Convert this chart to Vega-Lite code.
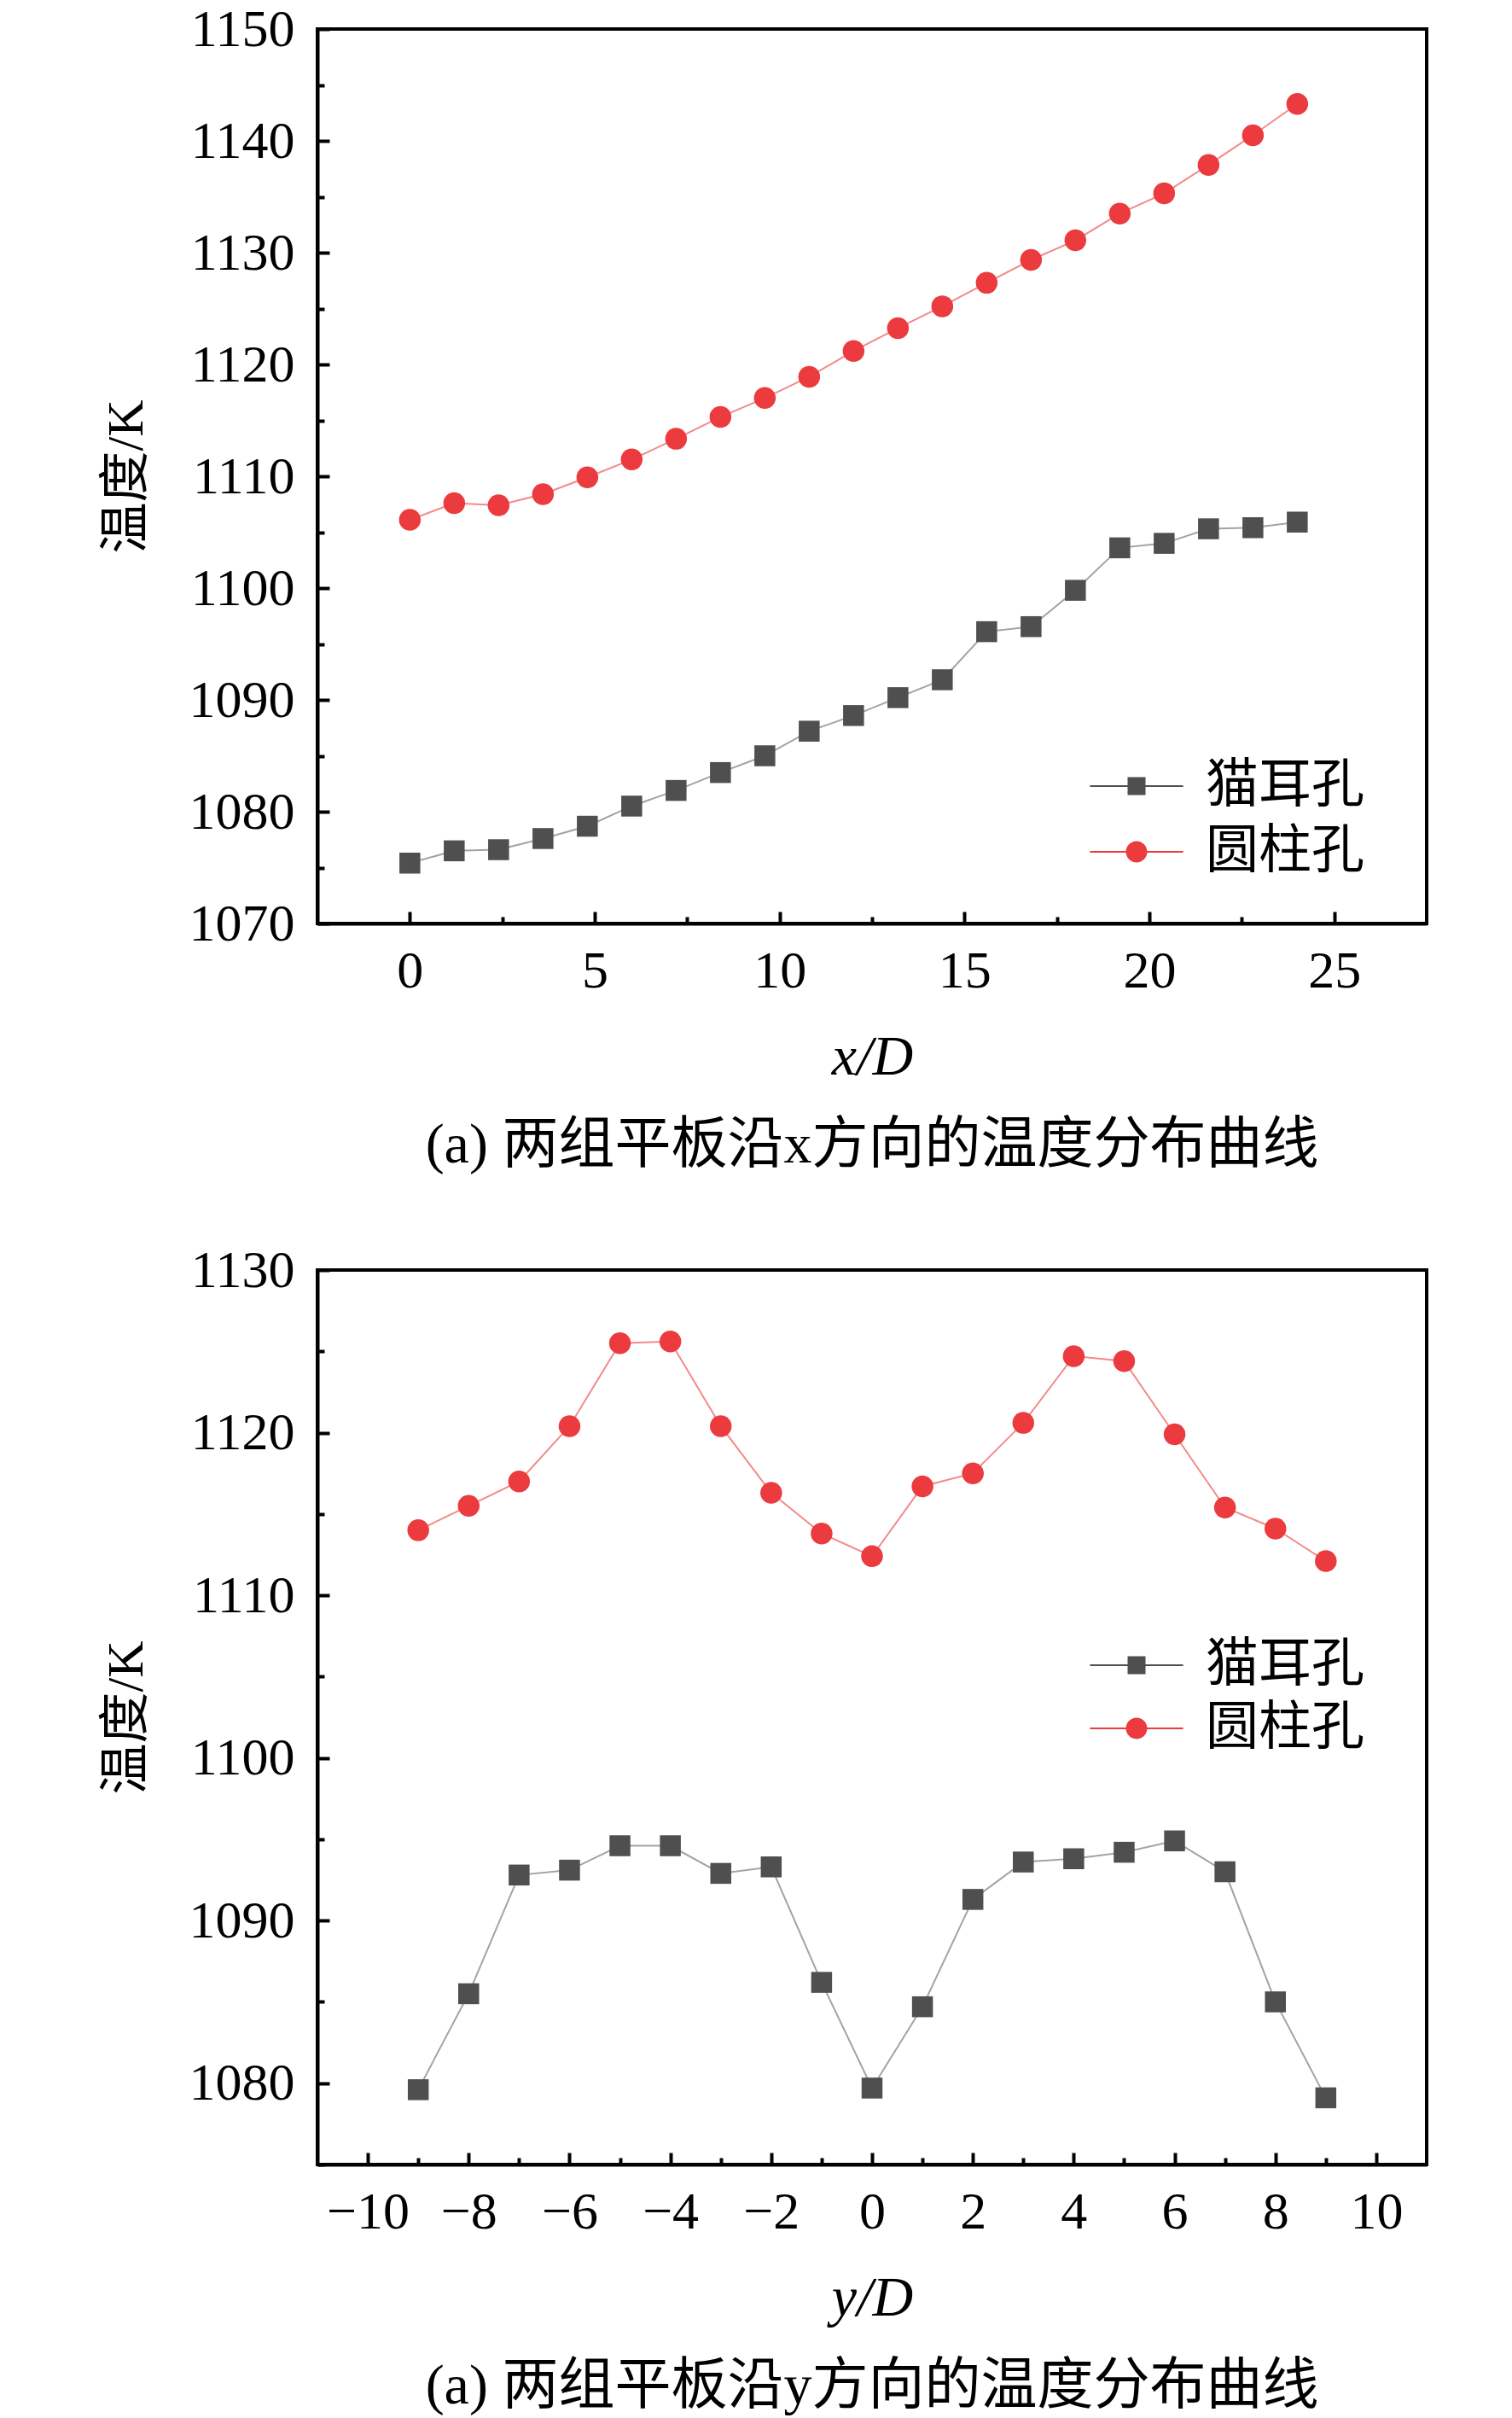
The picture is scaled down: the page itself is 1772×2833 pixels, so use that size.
{
  "$schema": "https://vega.github.io/schema/vega-lite/v6.json",
  "background": "white",
  "padding": {"left": 116, "top": 1, "right": 10, "bottom": 5},
  "spacing": 78,
  "config": {
    "view": {"stroke": "black", "strokeWidth": 4},
    "axis": {
      "grid": false,
      "domainColor": "black",
      "domainWidth": 4,
      "tickColor": "black",
      "tickWidth": 4,
      "labelFont": "Liberation Serif",
      "labelFontSize": 62,
      "labelColor": "black",
      "titleColor": "black",
      "titleFontWeight": "normal",
      "format": "d"
    },
    "legend": {
      "orient": "none",
      "padding": 0,
      "labelFont": "Noto Sans CJK SC",
      "labelFontSize": 62,
      "labelColor": "black",
      "labelLimit": 0,
      "symbolSize": 441,
      "symbolStrokeWidth": 0,
      "labelOffset": 50
    }
  },
  "datasets": {
    "xdir": [
      {"pos": 0, "temp": 1075.4, "type": "猫耳孔"},
      {"pos": 1.2, "temp": 1076.5, "type": "猫耳孔"},
      {"pos": 2.4, "temp": 1076.6, "type": "猫耳孔"},
      {"pos": 3.6, "temp": 1077.6, "type": "猫耳孔"},
      {"pos": 4.8, "temp": 1078.7, "type": "猫耳孔"},
      {"pos": 6.0, "temp": 1080.5, "type": "猫耳孔"},
      {"pos": 7.2, "temp": 1081.9, "type": "猫耳孔"},
      {"pos": 8.4, "temp": 1083.5, "type": "猫耳孔"},
      {"pos": 9.6, "temp": 1085.0, "type": "猫耳孔"},
      {"pos": 10.8, "temp": 1087.2, "type": "猫耳孔"},
      {"pos": 12.0, "temp": 1088.6, "type": "猫耳孔"},
      {"pos": 13.2, "temp": 1090.2, "type": "猫耳孔"},
      {"pos": 14.4, "temp": 1091.8, "type": "猫耳孔"},
      {"pos": 15.6, "temp": 1096.1, "type": "猫耳孔"},
      {"pos": 16.8, "temp": 1096.55, "type": "猫耳孔"},
      {"pos": 18.0, "temp": 1099.8, "type": "猫耳孔"},
      {"pos": 19.2, "temp": 1103.6, "type": "猫耳孔"},
      {"pos": 20.4, "temp": 1104.0, "type": "猫耳孔"},
      {"pos": 21.6, "temp": 1105.3, "type": "猫耳孔"},
      {"pos": 22.8, "temp": 1105.4, "type": "猫耳孔"},
      {"pos": 24.0, "temp": 1105.9, "type": "猫耳孔"},
      {"pos": 0, "temp": 1106.1, "type": "圆柱孔"},
      {"pos": 1.2, "temp": 1107.6, "type": "圆柱孔"},
      {"pos": 2.4, "temp": 1107.4, "type": "圆柱孔"},
      {"pos": 3.6, "temp": 1108.4, "type": "圆柱孔"},
      {"pos": 4.8, "temp": 1109.9, "type": "圆柱孔"},
      {"pos": 6.0, "temp": 1111.5, "type": "圆柱孔"},
      {"pos": 7.2, "temp": 1113.35, "type": "圆柱孔"},
      {"pos": 8.4, "temp": 1115.3, "type": "圆柱孔"},
      {"pos": 9.6, "temp": 1117.0, "type": "圆柱孔"},
      {"pos": 10.8, "temp": 1118.9, "type": "圆柱孔"},
      {"pos": 12.0, "temp": 1121.2, "type": "圆柱孔"},
      {"pos": 13.2, "temp": 1123.25, "type": "圆柱孔"},
      {"pos": 14.4, "temp": 1125.2, "type": "圆柱孔"},
      {"pos": 15.6, "temp": 1127.3, "type": "圆柱孔"},
      {"pos": 16.8, "temp": 1129.35, "type": "圆柱孔"},
      {"pos": 18.0, "temp": 1131.1, "type": "圆柱孔"},
      {"pos": 19.2, "temp": 1133.5, "type": "圆柱孔"},
      {"pos": 20.4, "temp": 1135.3, "type": "圆柱孔"},
      {"pos": 21.6, "temp": 1137.85, "type": "圆柱孔"},
      {"pos": 22.8, "temp": 1140.5, "type": "圆柱孔"},
      {"pos": 24.0, "temp": 1143.3, "type": "圆柱孔"}
    ],
    "ydir": [
      {"pos": -9, "temp": 1079.6, "type": "猫耳孔"},
      {"pos": -8, "temp": 1085.5, "type": "猫耳孔"},
      {"pos": -7, "temp": 1092.8, "type": "猫耳孔"},
      {"pos": -6, "temp": 1093.1, "type": "猫耳孔"},
      {"pos": -5, "temp": 1094.6, "type": "猫耳孔"},
      {"pos": -4, "temp": 1094.6, "type": "猫耳孔"},
      {"pos": -3, "temp": 1092.9, "type": "猫耳孔"},
      {"pos": -2, "temp": 1093.3, "type": "猫耳孔"},
      {"pos": -1, "temp": 1086.2, "type": "猫耳孔"},
      {"pos": 0, "temp": 1079.7, "type": "猫耳孔"},
      {"pos": 1, "temp": 1084.7, "type": "猫耳孔"},
      {"pos": 2, "temp": 1091.3, "type": "猫耳孔"},
      {"pos": 3, "temp": 1093.6, "type": "猫耳孔"},
      {"pos": 4, "temp": 1093.8, "type": "猫耳孔"},
      {"pos": 5, "temp": 1094.2, "type": "猫耳孔"},
      {"pos": 6, "temp": 1094.9, "type": "猫耳孔"},
      {"pos": 7, "temp": 1093.0, "type": "猫耳孔"},
      {"pos": 8, "temp": 1085.0, "type": "猫耳孔"},
      {"pos": 9, "temp": 1079.1, "type": "猫耳孔"},
      {"pos": -9, "temp": 1114.0, "type": "圆柱孔"},
      {"pos": -8, "temp": 1115.5, "type": "圆柱孔"},
      {"pos": -7, "temp": 1117.0, "type": "圆柱孔"},
      {"pos": -6, "temp": 1120.4, "type": "圆柱孔"},
      {"pos": -5, "temp": 1125.5, "type": "圆柱孔"},
      {"pos": -4, "temp": 1125.6, "type": "圆柱孔"},
      {"pos": -3, "temp": 1120.4, "type": "圆柱孔"},
      {"pos": -2, "temp": 1116.3, "type": "圆柱孔"},
      {"pos": -1, "temp": 1113.8, "type": "圆柱孔"},
      {"pos": 0, "temp": 1112.4, "type": "圆柱孔"},
      {"pos": 1, "temp": 1116.7, "type": "圆柱孔"},
      {"pos": 2, "temp": 1117.5, "type": "圆柱孔"},
      {"pos": 3, "temp": 1120.6, "type": "圆柱孔"},
      {"pos": 4, "temp": 1124.7, "type": "圆柱孔"},
      {"pos": 5, "temp": 1124.4, "type": "圆柱孔"},
      {"pos": 6, "temp": 1119.9, "type": "圆柱孔"},
      {"pos": 7, "temp": 1115.4, "type": "圆柱孔"},
      {"pos": 8, "temp": 1114.1, "type": "圆柱孔"},
      {"pos": 9, "temp": 1112.1, "type": "圆柱孔"}
    ]
  },
  "resolve": {
    "scale": {"color": "independent"},
    "legend": {"color": "independent"}
  },
  "vconcat": [
    {
      "width": 1300,
      "height": 1048,
      "data": {"name": "xdir"},
      "title": {
        "text": "(a) 两组平板沿x方向的温度分布曲线",
        "orient": "bottom",
        "anchor": "middle",
        "font": "Liberation Serif, Noto Sans CJK SC",
        "fontSize": 66,
        "fontWeight": "normal",
        "color": "black",
        "offset": 39
      },
      "encoding": {
        "x": {
          "field": "pos",
          "type": "quantitative",
          "scale": {"domain": [-2.5, 27.5], "nice": false, "zero": false},
          "axis": {
            "title": "x/D",
            "titleFont": "Liberation Serif",
            "titleFontStyle": "italic",
            "titleFontSize": 66,
            "titlePadding": 38,
            "values": [0, 2.5, 5, 7.5, 10, 12.5, 15, 17.5, 20, 22.5, 25],
            "labelExpr": "datum.value % 5 === 0 ? datum.label : ''",
            "tickSize": {"condition": {"test": "datum.value % 5 !== 0", "value": -8}, "value": -14},
            "labelPadding": 39
          }
        },
        "y": {
          "field": "temp",
          "type": "quantitative",
          "scale": {"domain": [1070, 1150], "nice": false, "zero": false},
          "axis": {
            "title": "温度/K",
            "titleFont": "Liberation Serif, Noto Sans CJK SC",
            "titleFontSize": 60,
            "titlePadding": 42,
            "values": [1070, 1075, 1080, 1085, 1090, 1095, 1100, 1105, 1110, 1115, 1120, 1125, 1130, 1135, 1140, 1145, 1150],
            "labelExpr": "datum.value % 10 === 0 ? datum.label : ''",
            "tickSize": {"condition": {"test": "datum.value % 10 !== 0", "value": -8}, "value": -14},
            "labelPadding": 41
          }
        }
      },
      "resolve": {
        "scale": {"color": "independent"},
        "legend": {"color": "independent"}
      },
      "layer": [
        {
          "transform": [{"filter": "datum.type === '猫耳孔'"}],
          "mark": {"type": "line", "strokeWidth": 2, "color": "#a3a3a3"},
          "encoding": {}
        },
        {
          "transform": [{"filter": "datum.type === '圆柱孔'"}],
          "mark": {"type": "line", "strokeWidth": 2, "color": "#f28a8a"},
          "encoding": {}
        },
        {
          "transform": [{"filter": "datum.type === '猫耳孔'"}],
          "mark": {"type": "point", "shape": "square", "filled": true, "opacity": 1, "strokeWidth": 0, "size": 600},
          "encoding": {
            "color": {
              "field": "type",
              "type": "nominal",
              "scale": {"domain": ["猫耳孔"], "range": ["#4f4f4f"]},
              "legend": {
                "legendX": 929,
                "legendY": 856,
                "title": null,
                "symbolType": "M-5.2,-0.1H5.2V0.1H-5.2Z M-1,-1H1V1H-1Z"
              }
            }
          }
        },
        {
          "transform": [{"filter": "datum.type === '圆柱孔'"}],
          "mark": {"type": "point", "shape": "circle", "filled": true, "opacity": 1, "strokeWidth": 0, "size": 650},
          "encoding": {
            "color": {
              "field": "type",
              "type": "nominal",
              "scale": {"domain": ["圆柱孔"], "range": ["#ec3b3e"]},
              "legend": {
                "legendX": 929,
                "legendY": 933,
                "title": null,
                "symbolType": "M-5.2,-0.1H5.2V0.1H-5.2Z M-1.19,0A1.19,1.19,0,1,1,1.19,0A1.19,1.19,0,1,1,-1.19,0Z"
              }
            }
          }
        }
      ]
    },
    {
      "width": 1300,
      "height": 1048,
      "data": {"name": "ydir"},
      "title": {
        "text": "(a) 两组平板沿y方向的温度分布曲线",
        "orient": "bottom",
        "anchor": "middle",
        "font": "Liberation Serif, Noto Sans CJK SC",
        "fontSize": 66,
        "fontWeight": "normal",
        "color": "black",
        "offset": 39
      },
      "encoding": {
        "x": {
          "field": "pos",
          "type": "quantitative",
          "scale": {"domain": [-11, 11], "nice": false, "zero": false},
          "axis": {
            "title": "y/D",
            "titleFont": "Liberation Serif",
            "titleFontStyle": "italic",
            "titleFontSize": 66,
            "titlePadding": 38,
            "values": [-10, -9, -8, -7, -6, -5, -4, -3, -2, -1, 0, 1, 2, 3, 4, 5, 6, 7, 8, 9, 10],
            "labelExpr": "datum.value % 2 === 0 ? datum.label : ''",
            "tickSize": {"condition": {"test": "datum.value % 2 !== 0", "value": -8}, "value": -14},
            "labelPadding": 39
          }
        },
        "y": {
          "field": "temp",
          "type": "quantitative",
          "scale": {"domain": [1075, 1130], "nice": false, "zero": false},
          "axis": {
            "title": "温度/K",
            "titleFont": "Liberation Serif, Noto Sans CJK SC",
            "titleFontSize": 60,
            "titlePadding": 42,
            "values": [1075, 1080, 1085, 1090, 1095, 1100, 1105, 1110, 1115, 1120, 1125, 1130],
            "labelExpr": "datum.value % 10 === 0 ? datum.label : ''",
            "tickSize": {"condition": {"test": "datum.value % 10 !== 0", "value": -8}, "value": -14},
            "labelPadding": 41
          }
        }
      },
      "resolve": {
        "scale": {"color": "independent"},
        "legend": {"color": "independent"}
      },
      "layer": [
        {
          "transform": [{"filter": "datum.type === '猫耳孔'"}],
          "mark": {"type": "line", "strokeWidth": 2, "color": "#a3a3a3"},
          "encoding": {}
        },
        {
          "transform": [{"filter": "datum.type === '圆柱孔'"}],
          "mark": {"type": "line", "strokeWidth": 2, "color": "#f28a8a"},
          "encoding": {}
        },
        {
          "transform": [{"filter": "datum.type === '猫耳孔'"}],
          "mark": {"type": "point", "shape": "square", "filled": true, "opacity": 1, "strokeWidth": 0, "size": 600},
          "encoding": {
            "color": {
              "field": "type",
              "type": "nominal",
              "scale": {"domain": ["猫耳孔"], "range": ["#4f4f4f"]},
              "legend": {
                "legendX": 929,
                "legendY": 432,
                "title": null,
                "symbolType": "M-5.2,-0.1H5.2V0.1H-5.2Z M-1,-1H1V1H-1Z"
              }
            }
          }
        },
        {
          "transform": [{"filter": "datum.type === '圆柱孔'"}],
          "mark": {"type": "point", "shape": "circle", "filled": true, "opacity": 1, "strokeWidth": 0, "size": 650},
          "encoding": {
            "color": {
              "field": "type",
              "type": "nominal",
              "scale": {"domain": ["圆柱孔"], "range": ["#ec3b3e"]},
              "legend": {
                "legendX": 929,
                "legendY": 506,
                "title": null,
                "symbolType": "M-5.2,-0.1H5.2V0.1H-5.2Z M-1.19,0A1.19,1.19,0,1,1,1.19,0A1.19,1.19,0,1,1,-1.19,0Z"
              }
            }
          }
        }
      ]
    }
  ]
}
